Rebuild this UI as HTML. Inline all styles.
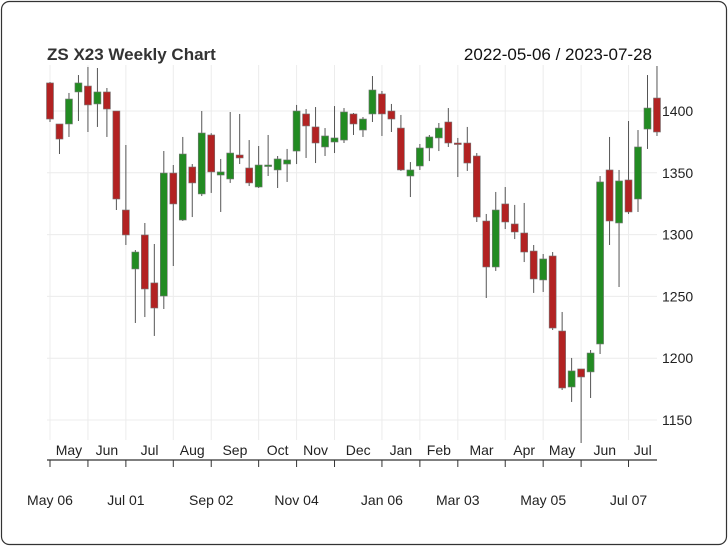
<!DOCTYPE html>
<html><head><meta charset="utf-8"><style>
body{margin:0;background:#fff}
svg{display:block;font-family:"Liberation Sans",sans-serif}
</style></head><body>
<svg id="chart" width="728" height="546" viewBox="0 0 728 546">
<rect x="1.5" y="1.5" width="725" height="543" rx="8" fill="#fff" stroke="#333" stroke-width="1.2"/>
<text x="47" y="60" font-size="17" font-weight="bold" fill="#333">ZS X23 Weekly Chart</text>
<text x="652" y="60" font-size="17" fill="#111" text-anchor="end">2022-05-06 / 2023-07-28</text>
<g id="grid"></g><g id="candles"></g><g id="axes"></g>
</svg>
<script>
const opens=[1422.7,1389.5,1389.5,1415.4,1420.2,1405.7,1415.4,1400,1319.9,1272.2,1299.7,1260.9,1250.3,1349.8,1311.8,1354.7,1332.9,1380.6,1348.2,1345,1364.4,1353.9,1338.5,1355.5,1352.3,1357.1,1367.6,1397.6,1387.1,1370.9,1374.9,1376.5,1397.6,1384.6,1397.6,1413.8,1400,1386.2,1347.4,1355.5,1370.1,1378.2,1391.1,1374.1,1374.1,1363.6,1311,1273.8,1324.8,1308.6,1301.3,1286.7,1263.3,1282.7,1222,1176.7,1191.3,1188.9,1211.5,1352.3,1309.4,1344.2,1328.8,1385.4,1410.5];
const highs=[1423.5,1389.5,1414.6,1429.1,1435.6,1434.8,1418.6,1400,1372.5,1287.5,1309.4,1292.4,1367.6,1356.3,1379,1357.1,1400,1382,1361.2,1399.2,1397.6,1376.5,1371.7,1380.6,1363.6,1369.3,1404.9,1401.6,1403.2,1386.2,1404,1402.4,1398.4,1395.1,1428.3,1416.2,1405.7,1396.8,1358.7,1373.3,1380.6,1390.3,1402.4,1378.2,1387.1,1366,1316.7,1334.5,1338.5,1324,1325.6,1291.6,1284.3,1285.9,1237.4,1200.2,1191.3,1206.6,1347.4,1379,1352.3,1391.9,1384.6,1429.1,1436.4];
const lows=[1391.1,1365.2,1379,1391.9,1383,1387.1,1379,1319.9,1291.6,1228.5,1233.3,1218,1239.8,1274.6,1311,1314.2,1331.2,1333.7,1318.3,1341.8,1357.1,1339.3,1337.7,1347.4,1337.7,1342.6,1357.1,1362,1357.9,1363.6,1366,1374.1,1380.6,1379,1391.1,1379.8,1383,1351.5,1330.4,1352.3,1359.5,1367.6,1370.9,1346.6,1351.5,1310.2,1248.7,1270.6,1304.5,1296.4,1277.8,1252.8,1253.6,1222.8,1174.3,1164.6,1131.4,1167.8,1203.4,1291.6,1257.6,1316.7,1318.3,1369.3,1379.8];
const closes=[1393.5,1377.3,1409.7,1422.7,1404.9,1415.4,1401.6,1328.8,1299.7,1285.9,1256,1240.6,1349.8,1324.8,1365.2,1341.8,1382.2,1350.7,1350.7,1366,1362,1341.8,1356.3,1356.3,1361.2,1360.4,1400,1387.9,1374.1,1379.8,1378.2,1399.2,1389.5,1393.5,1417,1397.6,1393.5,1352.3,1352.3,1370.1,1379,1386.2,1374.1,1373.3,1357.9,1314.2,1273.8,1319.9,1310.2,1302.1,1285.9,1264.1,1280.3,1224.4,1175.9,1189.7,1184.8,1204.2,1342.6,1311,1343.4,1318.3,1370.9,1402.4,1383];
const priceTicks=[1150,1200,1250,1300,1350,1400];
const monthLabels=["May","Jun","Jul","Aug","Sep","Oct","Nov","Dec","Jan","Feb","Mar","Apr","May","Jun","Jul"];
const monthStarts=[0,4,8,13,17,22,26,30,35,39,43,48,52,56,61];
const dateLabels=["May 06","Jul 01","Sep 02","Nov 04","Jan 06","Mar 03","May 05","Jul 07"];
const dateIdx=[0,8,17,26,35,43,52,61];

const NS="http://www.w3.org/2000/svg";
const X0=50,DX=9.484;
const xs=i=>X0+DX*i;
const ys=p=>111+(1400-p)*1.236;
function mk(parent,tag,attrs){const e=document.createElementNS(NS,tag);for(const k in attrs)e.setAttribute(k,attrs[k]);parent.appendChild(e);return e;}
const grid=document.getElementById('grid'),cg=document.getElementById('candles'),ax=document.getElementById('axes');
priceTicks.forEach(p=>{
  const l=mk(grid,'line',{x1:47,x2:657,y1:ys(p),y2:ys(p),stroke:'#ececec','stroke-width':1});
  
  
  const t=mk(ax,'text',{x:662,y:ys(p)+5,'font-size':14,fill:'#222'});t.textContent=p;
  
  
});
monthStarts.forEach((m,k)=>{
  const l=mk(grid,'line',{x1:xs(m),x2:xs(m),y1:65,y2:440,stroke:'#ececec','stroke-width':1});
  
  
  const tk=mk(ax,'line',{x1:xs(m),x2:xs(m),y1:460,y2:467,stroke:'#333','stroke-width':1});
  
  
  const nx=k<monthStarts.length-1?xs(monthStarts[k+1]):xs(opens.length-1);
  const t=mk(ax,'text',{x:(xs(m)+nx)/2,y:455,'font-size':14,fill:'#222','text-anchor':'middle'});t.textContent=monthLabels[k];
  
  
});
const axl=mk(ax,'line',{x1:47,x2:657,y1:460,y2:460,stroke:'#333','stroke-width':1.2});


dateIdx.forEach((d,k)=>{
  const t=mk(ax,'text',{x:xs(d),y:505,'font-size':14,fill:'#222','text-anchor':'middle'});t.textContent=dateLabels[k];
  
  
});
opens.forEach((o,i)=>{
  const c=closes[i],up=c>=o,col=up?'#228b22':'#b22222',x=xs(i);
  const w=mk(cg,'line',{x1:x,x2:x,y1:ys(highs[i]),y2:ys(lows[i]),stroke:'#555','stroke-width':1});
  
  
  const top=ys(Math.max(o,c)),h=Math.max(1.5,ys(Math.min(o,c))-top);
  const r=mk(cg,'rect',{x:x-3.5,y:top,width:7,height:h,fill:col,stroke:'#777','stroke-width':0.6});
  
  
});
</script>
</body></html>
